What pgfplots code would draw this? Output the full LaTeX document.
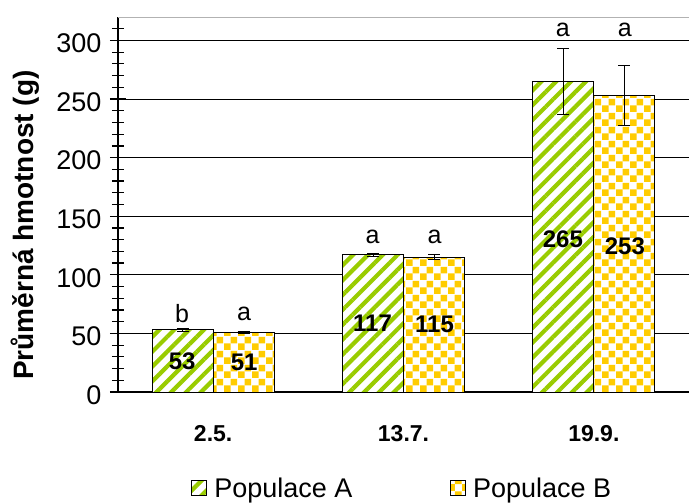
\documentclass[border=0pt]{standalone}
\usepackage{pgfplots}
\pgfplotsset{compat=1.18}
\usepackage{fontspec}
\setmainfont{Liberation Sans}
\usetikzlibrary{patterns.meta}
\definecolor{gA}{RGB}{153,204,0}
\definecolor{yB}{RGB}{255,204,0}
\tikzdeclarepattern{
  name=bigchecker,
  type=uncolored,
  bottom left={(0bp,0bp)},
  top right={(14bp,14bp)},
  tile size={(14bp,14bp)},
  code={\fill (0bp,0bp) rectangle (7bp,7bp); \fill (7bp,7bp) rectangle (14bp,14bp);}
}
\begin{document}
\begin{tikzpicture}
\begin{axis}[
  scale only axis,
  width=571bp, height=375bp,
  xmin=-0.5, xmax=2.5,
  ymin=0, ymax=320,
  axis x line=bottom, axis y line=left,
  axis line style={-, line width=1.3bp},
  xtick={0,1,2},
  xticklabels={2.5.,13.7.,19.9.},
  xtick style={draw=none},
  xticklabel style={font=\fontsize{23bp}{27bp}\selectfont\bfseries, yshift=-14bp},
  ytick={0,50,...,300},
  minor ytick={10,20,...,310},
  tick align=center,
  major tick length=16bp,
  minor tick length=12bp,
  ytick style={line width=1.2bp, black},
  minor tick style={line width=1.2bp, black},
  yticklabel style={font=\fontsize{27bp}{31bp}\selectfont, xshift=-5bp, yshift=-3bp},
  /pgf/number format/assume math mode=true,
  ymajorgrids,
  major grid style={black, line width=0.9bp},
  ybar=0pt,
  bar width=61bp,
  every axis y label/.style={at={(axis description cs:0,0.445)}, xshift=-93bp, rotate=90, anchor=center, font=\fontsize{28bp}{32bp}\selectfont\bfseries},
  ylabel={Průměrná hmotnost (g)},
  legend columns=2,
  legend style={at={(axis description cs:0.498,-0.257)}, anchor=center, draw=none, font=\fontsize{27bp}{31bp}\selectfont, /tikz/every odd column/.append style={column sep=5bp}, /tikz/every even column/.append style={column sep=96bp}},
  legend image code/.code={\draw[#1, line width=0.8bp] (0bp,-7.5bp) rectangle (15bp,7.5bp);},
  error bars/y dir=both,
  error bars/y explicit,
  error bars/error bar style={black, line width=1bp},
  error bars/error mark options={rotate=90, mark size=6bp, black, line width=1bp},
]
\addplot[draw=black, line width=0.8bp, preaction={fill=white}, pattern={Lines[angle=45,distance=10.5bp,line width=4.2bp]}, pattern color=gA]
  coordinates {(0,53) +- (0,1) (1,117) +- (0,1.5) (2,265) +- (0,28)};
\addplot[draw=black, line width=0.8bp, preaction={fill=white}, pattern=bigchecker, pattern color=yB]
  coordinates {(0,51) +- (0,1) (1,115) +- (0,2) (2,253) +- (0,26)};
\legend{Populace A, Populace B}
\begin{scope}[font=\fontsize{24bp}{28bp}\selectfont\bfseries]
\node at ([xshift=-31bp]axis cs:0,26.5) {53};
\node at ([xshift=31bp]axis cs:0,25.5) {51};
\node at ([xshift=-31bp]axis cs:1,58.5) {117};
\node at ([xshift=31bp]axis cs:1,57.5) {115};
\node at ([xshift=-31bp]axis cs:2,130.5) {265};
\node at ([xshift=31bp]axis cs:2,124.5) {253};
\end{scope}
\begin{scope}[font=\fontsize{25bp}{29bp}\selectfont]
\node at ([xshift=-31bp]axis cs:0,67) {b};
\node at ([xshift=31bp]axis cs:0,67) {a};
\node at ([xshift=-31bp]axis cs:1,132) {a};
\node at ([xshift=31bp]axis cs:1,132) {a};
\node at ([xshift=-31bp]axis cs:2,309) {a};
\node at ([xshift=31bp]axis cs:2,309) {a};
\end{scope}
\draw[gray!60, line width=0.9bp] (rel axis cs:0,1) -- (rel axis cs:1,1);
\pgfplotsinvokeforeach{-0.5,0.5,1.5,2.5}{
  \draw[black, line width=1.2bp] (axis cs:#1,0) -- ([yshift=-7bp]axis cs:#1,0);
}
\coordinate (bl) at (rel axis cs:0,0);
\coordinate (tr) at (rel axis cs:1,1);
\end{axis}
\pgfresetboundingbox
\path[use as bounding box] ([xshift=-118bp,yshift=-112bp]bl) rectangle ([xshift=0bp,yshift=17bp]tr);
\end{tikzpicture}
\end{document}
